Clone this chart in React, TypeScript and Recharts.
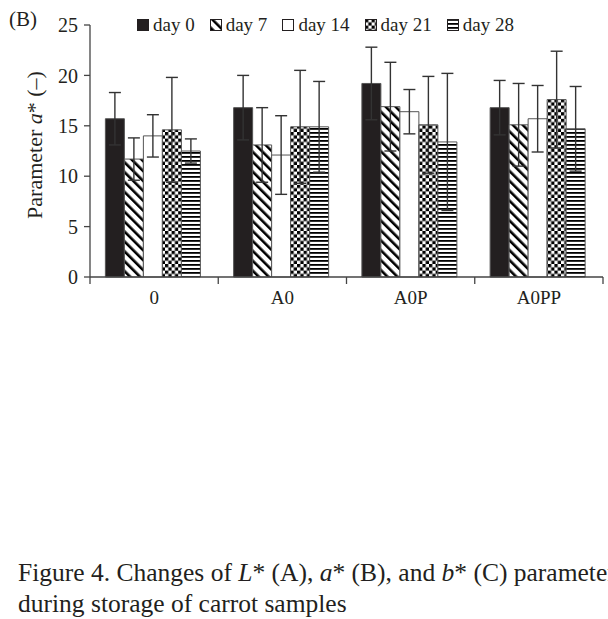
import { BarChart, Bar, XAxis, YAxis, ErrorBar } from "recharts"

const categories = ["0", "A0", "A0P", "A0PP"]
const day0 = [15.7, 16.8, 19.2, 16.8]
const day7 = [11.7, 13.1, 16.9, 15.1]
const day14 = [14.0, 12.1, 16.4, 15.7]
const day21 = [14.6, 14.9, 15.1, 17.6]
const day28 = [12.5, 14.9, 13.4, 14.7]
const err0 = [2.6, 3.2, 3.6, 2.7]
const err7 = [2.1, 3.7, 4.4, 4.1]
const err14 = [2.1, 3.9, 2.2, 3.3]
const err21 = [5.2, 5.6, 4.8, 4.8]
const err28 = [1.2, 4.5, 6.8, 4.2]
const yTicks = [0, 5, 10, 15, 20, 25]

const FONT = "'Liberation Serif', serif"
const INK = "#231f20"
const W = 608
const H = 320
const MARGIN = { top: 25, right: 5, bottom: 0, left: 0 }
const Y_W = 90
const BAND = (W - MARGIN.left - MARGIN.right - Y_W) / categories.length

const series = [
  { key: "d0", err: "e0", name: "day 0", fill: INK },
  { key: "d7", err: "e7", name: "day 7", fill: "url(#diag)" },
  { key: "d14", err: "e14", name: "day 14", fill: "#fff" },
  { key: "d21", err: "e21", name: "day 21", fill: "url(#check)" },
  { key: "d28", err: "e28", name: "day 28", fill: "url(#hstripe)" },
]

const data = categories.map((c, i) => ({
  name: c,
  d0: day0[i], d7: day7[i], d14: day14[i], d21: day21[i], d28: day28[i],
  e0: err0[i], e7: err7[i], e14: err14[i], e21: err21[i], e28: err28[i],
}))

const XTick = ({ x, y, payload, index }: any) => (
  <g>
    <line x1={x - BAND / 2} x2={x - BAND / 2} y1={y - 7} y2={y} stroke="#444" strokeWidth={1.3} />
    {index === categories.length - 1 && (
      <line x1={x + BAND / 2} x2={x + BAND / 2} y1={y - 7} y2={y} stroke="#444" strokeWidth={1.3} />
    )}
    <text x={x} y={y + 20} textAnchor="middle" fontFamily={FONT} fontSize={19} fill={INK}>
      {payload.value}
    </text>
  </g>
)

const YLabel = ({ viewBox }: any) => {
  const cx = 34
  const cy = viewBox.y + viewBox.height / 2 - 6
  return (
    <text x={cx} y={cy} transform={`rotate(-90 ${cx} ${cy})`} textAnchor="middle" dominantBaseline="central"
      fontFamily={FONT} fontSize={22} fill={INK}>
      Parameter <tspan fontStyle="italic">a</tspan>* (–)
    </text>
  )
}

export default function App() {
  return (
    <div style={{ position: "absolute", left: 0, top: 0, width: W, height: 619, background: "#fff" }}>
      <div style={{ position: "absolute", left: 9, top: 7, fontFamily: FONT, fontSize: 21, color: INK }}>(B)</div>
      <div style={{ position: "absolute", left: 137, top: 13, display: "flex", fontFamily: FONT, fontSize: 19,
        lineHeight: "24px", color: INK }}>
        {series.map((s) => (
          <div key={s.key} style={{ display: "flex", alignItems: "center", marginRight: 15 }}>
            <svg width={12} height={12} style={{ marginRight: 4 }}>
              <rect x={0.5} y={0.5} width={11} height={11} fill={s.fill} stroke={INK} strokeWidth={1} />
            </svg>
            <span>{s.name}</span>
          </div>
        ))}
      </div>
      <BarChart width={W} height={H} data={data} margin={MARGIN} barCategoryGap="12%" barGap={0}>
        <defs>
          <pattern id="diag" width={7} height={7} patternUnits="userSpaceOnUse" patternTransform="rotate(-45)">
            <rect width={7} height={7} fill="#fff" />
            <rect width={2.6} height={7} fill="#000" />
          </pattern>
          <pattern id="check" width={6.6} height={6.6} patternUnits="userSpaceOnUse">
            <rect width={6.6} height={6.6} fill="#fff" />
            <rect width={3.3} height={3.3} fill="#000" />
            <rect x={3.3} y={3.3} width={3.3} height={3.3} fill="#000" />
          </pattern>
          <pattern id="hstripe" width={4} height={4} patternUnits="userSpaceOnUse">
            <rect width={4} height={4} fill="#fff" />
            <rect width={4} height={1.8} fill="#000" />
          </pattern>
        </defs>
        <XAxis dataKey="name" height={43} axisLine={{ stroke: "#444", strokeWidth: 1.3 }} tickLine={false}
          tickSize={7} tickMargin={0} tick={<XTick />} interval={0} />
        <YAxis width={Y_W} domain={[0, 25]} ticks={yTicks} interval={0} tickSize={6} tickMargin={6}
          axisLine={{ stroke: "#444", strokeWidth: 1.3 }} tickLine={{ stroke: "#444", strokeWidth: 1.3 }}
          tick={{ fontFamily: FONT, fontSize: 20, fill: INK }} label={<YLabel />} />
        {series.map((s) => (
          <Bar key={s.key} dataKey={s.key} name={s.name} fill={s.fill} stroke="#555" strokeWidth={1}
            isAnimationActive={false}>
            <ErrorBar dataKey={s.err} width={6} stroke="#333" strokeWidth={1.4} direction="y" />
          </Bar>
        ))}
      </BarChart>
      <div style={{ position: "absolute", left: 18, top: 557, width: W - 18, overflow: "hidden", whiteSpace: "nowrap",
        fontFamily: FONT, fontSize: 25.5, lineHeight: "31px", color: INK }}>
        <div>Figure 4. Changes of <i>L</i>* (A), <i>a</i>* (B), and <i>b</i>* (C) parameters</div>
        <div>during storage of carrot samples</div>
      </div>
    </div>
  )
}
